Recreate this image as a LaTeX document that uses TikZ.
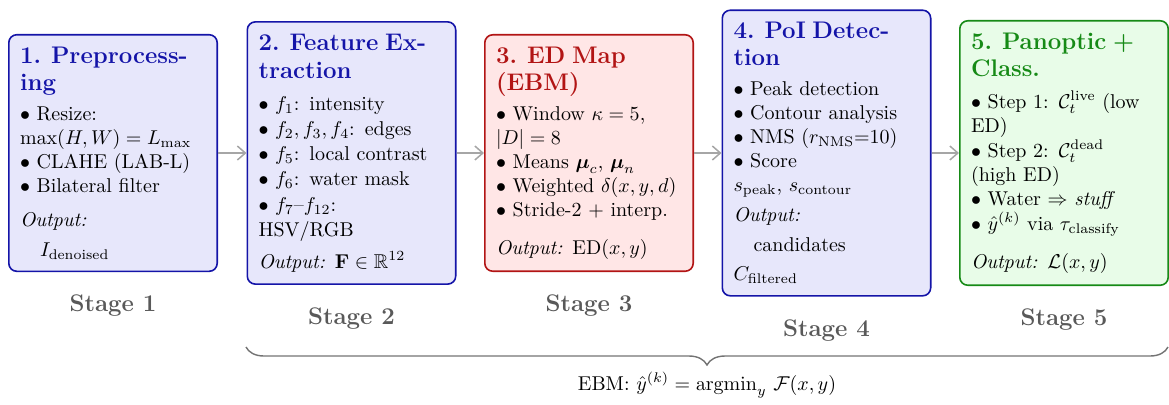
\documentclass[tikz,border=0pt]{standalone}
\usepackage{amsmath,amssymb}
\usetikzlibrary{positioning,decorations.pathreplacing,arrows.meta,calc}
\definecolor{bluefill}{RGB}{231,231,251}
\definecolor{blueline}{RGB}{20,20,168}
\definecolor{redfill}{RGB}{255,230,230}
\definecolor{redline}{RGB}{178,20,20}
\definecolor{greenfill}{RGB}{232,252,232}
\definecolor{greenline}{RGB}{22,138,22}
\definecolor{stagegray}{RGB}{89,89,89}
\newcommand{\stgtitle}[2]{{\large\bfseries\color{#1}#2}}
\begin{document}
\begin{tikzpicture}[
  stagebox/.style={draw, rounded corners=4pt, line width=0.8pt, text width=93pt,
    align=left, inner xsep=5.6pt, inner ysep=6pt, font=\normalsize},
  bluebox/.style={stagebox, draw=blueline, fill=bluefill},
  redbox/.style={stagebox, draw=redline, fill=redfill},
  greenbox/.style={stagebox, draw=greenline, fill=greenfill},
  stagelabel/.style={font=\large\bfseries, text=stagegray},
  flow/.style={-{Straight Barb[length=4pt,width=7pt]}, draw=black!35, line width=0.75pt},
  ebrace/.style={decorate, decoration={brace, mirror, amplitude=9pt}, draw=black!55, line width=0.7pt}
]
\useasboundingbox (0,0) rectangle (584.5pt,-202pt);

\node[bluebox] (b1) at (56.5pt,-76.5pt) {\stgtitle{blueline}{1. Preprocess-\\[1.5pt]ing}\\[3pt]
$\bullet$ Resize:\\
$\max(H,W) = L_{\max}$\\
$\bullet$ CLAHE (LAB-L)\\
$\bullet$ Bilateral filter\\[5pt]
\textit{Output:}\\[3pt]
\hspace*{1em}$I_{\text{denoised}}$};

\node[bluebox] (b2) at (175.75pt,-76.5pt) {\stgtitle{blueline}{2. Feature Ex-\\[2pt]traction}\\[4pt]
$\bullet$ $f_1$: intensity\\[0.6pt]
$\bullet$ $f_2, f_3, f_4$: edges\\[0.6pt]
$\bullet$ $f_5$: local contrast\\[0.6pt]
$\bullet$ $f_6$: water mask\\[0.6pt]
$\bullet$ $f_7$--$f_{12}$:\\[0.6pt]
HSV/RGB\\[4pt]
\textit{Output:} $\mathbf{F} \in \mathbb{R}^{12}$};

\node[redbox] (b3) at (294.5pt,-76.5pt) {\stgtitle{redline}{3. ED Map\\[1.5pt](EBM)}\\[3pt]
$\bullet$ Window $\kappa = 5$,\\
$|D| = 8$\\
$\bullet$ Means $\boldsymbol{\mu}_c$, $\boldsymbol{\mu}_n$\\
$\bullet$ Weighted $\delta(x,y,d)$\\
$\bullet$ Stride-2 + interp.\\[7pt]
\textit{Output:} $\mathrm{ED}(x,y)$};

\node[bluebox] (b4) at (413.25pt,-76.5pt) {\stgtitle{blueline}{4. PoI Detec-\\[1.5pt]tion}\\[3pt]
$\bullet$ Peak detection\\
$\bullet$ Contour analysis\\
$\bullet$ NMS ($r_{\text{NMS}}$=10)\\
$\bullet$ Score\\
$s_{\text{peak}}$, $s_{\text{contour}}$\\[3pt]
\textit{Output:}\\[3pt]
\hspace*{1em}candidates\\[2.5pt]
$C_{\text{filtered}}$};

\node[greenbox] (b5) at (532pt,-76.5pt) {\stgtitle{greenline}{5. Panoptic +\\[1.5pt]Class.}\\[4pt]
$\bullet$ Step 1: $\mathcal{C}_t^{\text{live}}$ (low\\
ED)\\[0.5pt]
$\bullet$ Step 2: $\mathcal{C}_t^{\text{dead}}$\\
(high ED)\\
$\bullet$ Water $\Rightarrow$ \textit{stuff}\\[0.5pt]
$\bullet$ $\hat{y}^{(k)}$ via $\tau_{\text{classify}}$\\[7pt]
\textit{Output:} $\mathcal{L}(x,y)$};

\node[stagelabel, below=8pt of b1] (s1) {Stage 1};
\node[stagelabel, below=8pt of b2] (s2) {Stage 2};
\node[stagelabel, below=8pt of b3] (s3) {Stage 3};
\node[stagelabel, below=8pt of b4] (s4) {Stage 4};
\node[stagelabel, below=8pt of b5] (s5) {Stage 5};

\draw[flow] (b1) -- (b2);
\draw[flow] (b2) -- (b3);
\draw[flow] (b3) -- (b4);
\draw[flow] (b4) -- (b5);

\coordinate (bl) at (123pt,-173.5pt);
\coordinate (br) at (584pt,-173.5pt);
\draw[ebrace] (bl) -- (br) node[midway, below=9pt, font=\normalsize, text=black] (ebm)
  {EBM: $\hat{y}^{(k)} = \operatorname{argmin}_y\, \mathcal{F}(x,y)$};
\end{tikzpicture}
\end{document}
